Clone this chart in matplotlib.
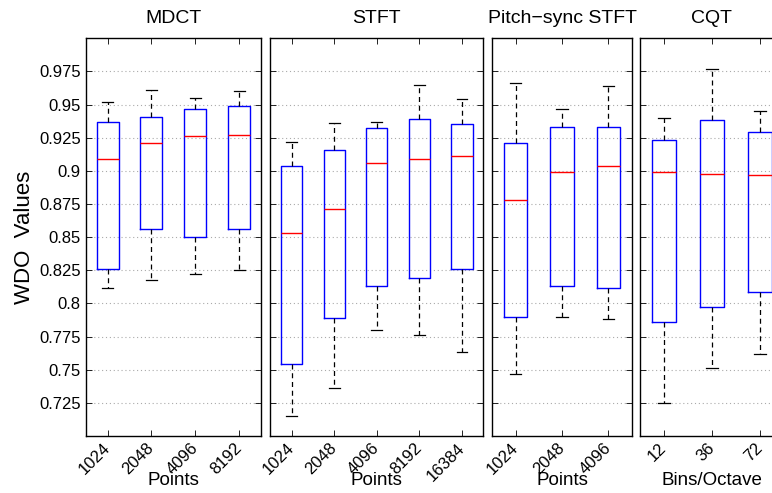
import matplotlib
matplotlib.use('Agg')
import matplotlib.pyplot as plt
from matplotlib.transforms import ScaledTranslation

plt.rcParams['font.family'] = ['Liberation Sans', 'DejaVu Sans']

# Panel titles, x labels and tick labels
titles = ['MDCT', 'STFT', 'Pitch\u2212sync STFT', 'CQT']
xlabels = ['Points', 'Points', 'Points', 'Bins/Octave']
mdct_labels = ['1024', '2048', '4096', '8192']
stft_labels = ['1024', '2048', '4096', '8192', '16384']
psync_labels = ['1024', '2048', '4096']
cqt_labels = ['12', '36', '72']

# Box statistics (whisker low, Q1, median, Q3, whisker high)
mdct_lo = [0.812, 0.818, 0.822, 0.825]
mdct_q1 = [0.826, 0.856, 0.850, 0.856]
mdct_med = [0.909, 0.921, 0.926, 0.927]
mdct_q3 = [0.937, 0.941, 0.947, 0.949]
mdct_hi = [0.952, 0.961, 0.955, 0.960]

stft_lo = [0.715, 0.736, 0.780, 0.776, 0.763]
stft_q1 = [0.754, 0.789, 0.813, 0.819, 0.826]
stft_med = [0.853, 0.871, 0.906, 0.909, 0.911]
stft_q3 = [0.904, 0.916, 0.932, 0.939, 0.935]
stft_hi = [0.922, 0.936, 0.937, 0.965, 0.954]

psync_lo = [0.747, 0.790, 0.788]
psync_q1 = [0.790, 0.813, 0.812]
psync_med = [0.878, 0.899, 0.904]
psync_q3 = [0.921, 0.933, 0.933]
psync_hi = [0.966, 0.947, 0.964]

cqt_lo = [0.725, 0.751, 0.762]
cqt_q1 = [0.786, 0.797, 0.809]
cqt_med = [0.899, 0.898, 0.897]
cqt_q3 = [0.923, 0.938, 0.929]
cqt_hi = [0.940, 0.977, 0.945]

panels = [
    (mdct_labels, mdct_lo, mdct_q1, mdct_med, mdct_q3, mdct_hi),
    (stft_labels, stft_lo, stft_q1, stft_med, stft_q3, stft_hi),
    (psync_labels, psync_lo, psync_q1, psync_med, psync_q3, psync_hi),
    (cqt_labels, cqt_lo, cqt_q1, cqt_med, cqt_q3, cqt_hi),
]

# axes positions in figure fractions (left, width); the CQT panel runs off the right edge
positions = [(0.111, 0.2271), (0.3501, 0.2759), (0.6377, 0.1806), (0.829, 0.186)]
bottom, height = 0.1156, 0.8067

yticks = [0.725, 0.75, 0.775, 0.8, 0.825, 0.85, 0.875, 0.9, 0.925, 0.95, 0.975]
ytick_labels = ['0.725', '0.75', '0.775', '0.8', '0.825', '0.85', '0.875', '0.9', '0.925', '0.95', '0.975']

fig = plt.figure(figsize=(7.72, 4.93), dpi=100)
shift = ScaledTranslation(3 / 100, 0, fig.dpi_scale_trans)

for i, (labels, lo, q1, med, q3, hi) in enumerate(panels):
    left, width = positions[i]
    ax = fig.add_axes([left, bottom, width, height])
    stats = []
    for j in range(len(labels)):
        stats.append({'whislo': lo[j], 'q1': q1[j], 'med': med[j],
                      'q3': q3[j], 'whishi': hi[j], 'fliers': []})
    ax.bxp(stats, positions=range(1, len(labels) + 1), widths=0.5,
           showfliers=False,
           boxprops=dict(color='#0000ff', linewidth=1.0),
           medianprops=dict(color='#ff0000', linewidth=1.0),
           whiskerprops=dict(color='black', linewidth=0.9, linestyle=(0, (4, 3))),
           capprops=dict(color='black', linewidth=0.9),
           capwidths=0.25)
    ax.set_xlim(0.5, len(labels) + 0.5)
    ax.set_ylim(0.7, 1.0)
    ax.set_yticks(yticks)
    ax.yaxis.grid(True, linestyle=(0, (1, 2.5)), color='#aaaaaa', linewidth=0.8)
    ax.set_axisbelow(True)
    ax.set_xticks(range(1, len(labels) + 1))
    ax.set_xticklabels(labels, rotation=45, ha='right', va='center',
                       rotation_mode='anchor', fontsize=12)
    for lab in ax.get_xticklabels():
        lab.set_transform(lab.get_transform() + shift)
    ax.tick_params(direction='in', top=True, right=True, length=4, width=0.6)
    ax.tick_params(axis='x', pad=7)
    if i == 0:
        ax.set_yticklabels(ytick_labels, fontsize=12)
        ax.set_ylabel('WDO  Values', fontsize=16, labelpad=3)
    else:
        ax.set_yticklabels([])
    ax.set_title(titles[i], fontsize=14, pad=11)
    ax.set_xlabel(xlabels[i], fontsize=13.5)
    ax.xaxis.set_label_coords(0.5, -0.09)
    for s in ax.spines.values():
        s.set_linewidth(1.0)

fig.savefig('out.png', dpi=100)
